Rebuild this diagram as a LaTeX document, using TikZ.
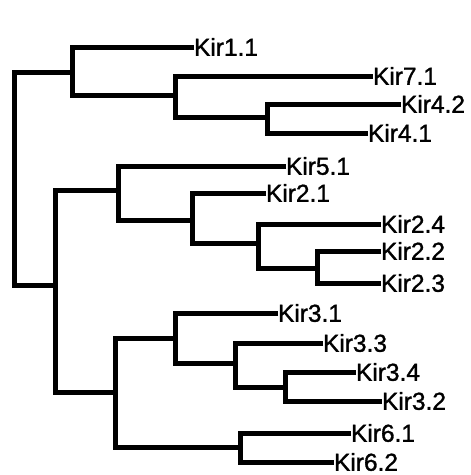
\documentclass[tikz,border=0pt]{standalone}
\usepackage{fontspec}
\setmainfont{Liberation Sans}
\newfontfamily\labelfont[FakeBold=1.3]{Liberation Sans}
\begin{document}
\begin{tikzpicture}[x=1pt,y=-1pt,
  branch/.style={line width=5pt,line join=miter},
  leaf/.style={anchor=west,inner sep=0pt,outer sep=0pt,text depth=0pt,
    text height=17.5pt,font=\labelfont\fontsize{24.5}{26}\selectfont}]
\useasboundingbox[fill=white] (0,0) rectangle (471,475);

% leaf labels (west end = tip of the branch)
\node[leaf] (k11) at (194,47)  {Kir1.1};
\node[leaf] (k71) at (373,76)  {Kir7.1};
\node[leaf] (k42) at (401,104) {Kir4.2};
\node[leaf] (k41) at (368,133) {Kir4.1};
\node[leaf] (k51) at (286,166) {Kir5.1};
\node[leaf] (k21) at (266,193) {Kir2.1};
\node[leaf] (k24) at (381,224) {Kir2.4};
\node[leaf] (k22) at (381,251) {Kir2.2};
\node[leaf] (k23) at (381,283) {Kir2.3};
\node[leaf] (k31) at (278,313) {Kir3.1};
\node[leaf] (k33) at (323,343) {Kir3.3};
\node[leaf] (k34) at (356,372) {Kir3.4};
\node[leaf] (k32) at (382,401) {Kir3.2};
\node[leaf] (k61) at (351,433) {Kir6.1};
\node[leaf] (k62) at (334,462) {Kir6.2};

% internal nodes
\coordinate (root) at (14,178);
\coordinate (nT) at (72,72);
\coordinate (nA) at (175,95);
\coordinate (nB) at (267,117);
\coordinate (nM) at (55,285);
\coordinate (nC) at (118,190);
\coordinate (nE) at (192,220);
\coordinate (nF) at (258,243);
\coordinate (nG) at (317,268);
\coordinate (nD) at (115,392);
\coordinate (nH) at (175,338);
\coordinate (nJ) at (235,363);
\coordinate (nK) at (285,387);
\coordinate (nI) at (240,447);

% branches
\draw[branch] (nT) -| (root) |- (nM);
\draw[branch] (k11.west) -| (nT) |- (nA);
\draw[branch] (k71.west) -| (nA) |- (nB);
\draw[branch] (k42.west) -| (nB) |- (k41.west);
\draw[branch] (nC) -| (nM) |- (nD);
\draw[branch] (k51.west) -| (nC) |- (nE);
\draw[branch] (k21.west) -| (nE) |- (nF);
\draw[branch] (k24.west) -| (nF) |- (nG);
\draw[branch] (k22.west) -| (nG) |- (k23.west);
\draw[branch] (nH) -| (nD) |- (nI);
\draw[branch] (k31.west) -| (nH) |- (nJ);
\draw[branch] (k33.west) -| (nJ) |- (nK);
\draw[branch] (k34.west) -| (nK) |- (k32.west);
\draw[branch] (k61.west) -| (nI) |- (k62.west);
\end{tikzpicture}
\end{document}
